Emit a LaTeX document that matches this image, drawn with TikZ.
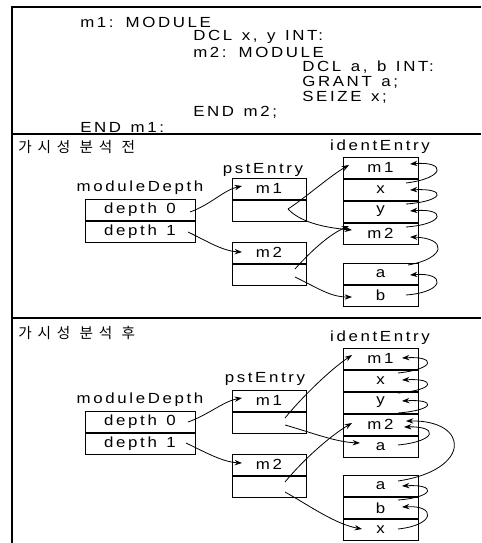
\documentclass[tikz,border=0pt]{standalone}
\usepackage{fontspec}
\setmainfont{Liberation Sans}[FakeStretch=1.15,LetterSpace=18,WordSpace=1.3]
\newfontfamily\krfont{Noto Sans CJK KR}[LetterSpace=40]
\usetikzlibrary{arrows.meta}
\begin{document}
\begin{tikzpicture}[x=0.75pt,y=-0.75pt,
  every node/.style={font=\fontsize{11}{13}\selectfont, inner sep=0pt},
  cell/.style={draw, line width=0.75pt, minimum width=#1, minimum height=15.75pt},
  frame/.style={line width=0.9pt},
  link/.style={-{Stealth[length=5.5pt,width=4pt]}, line width=0.6pt},
  codeline/.style={anchor=west},
  ttl/.style={anchor=west, font=\krfont\fontsize{11}{13}\selectfont}]
\useasboundingbox (0,0) rectangle (482,543);
% frame
\draw[frame] (481,7) -- (12,7) -- (12,543);
\draw[frame] (12,134) -- (481,134);
\draw[frame] (12,318) -- (481,318);
% code
\node[codeline] (c1) at (80,22) {m1: MODULE};
\node[codeline] (c2) at (193,37) {DCL x, y INT:};
\node[codeline] (c3) at (193,52) {m2: MODULE};
\node[codeline] (c4) at (302,67) {DCL a, b INT:};
\node[codeline] (c5) at (302,82) {GRANT a;};
\node[codeline] (c6) at (302,97) {SEIZE x;};
\node[codeline] (c7) at (193,112) {END m2;};
\node[codeline] (c8) at (80,127) {END m1:};
% ===== section 1 =====
\node[ttl] (t1) at (18,147) {가시성 분석 전};
\node (lmd1) at (140,188) {moduleDepth};
\node (lps1) at (263,170) {pstEntry};
\node (lid1) at (380,147) {identEntry};
\node[cell=82.5pt] (amd0) at (140,209.5) {depth 0};
\node[cell=82.5pt, anchor=north] (amd1) at (amd0.south) {depth 1};
\node[cell=55.5pt] (ap1a) at (269,188.5) {m1};
\node[cell=55.5pt, anchor=north] (ap1b) at (ap1a.south) {};
\node[cell=55.5pt] (ap2a) at (269,252.5) {m2};
\node[cell=55.5pt, anchor=north] (ap2b) at (ap2a.south) {};
\node[cell=56.25pt] (aim1) at (380.5,167.5) {m1};
\node[cell=56.25pt, anchor=north] (aix) at (aim1.south) {x};
\node[cell=56.25pt, anchor=north] (aiy) at (aix.south) {y};
\node[cell=56.25pt, anchor=north] (aim2) at (aiy.south) {m2};
\node[cell=56.25pt] (aia) at (380.5,273.5) {a};
\node[cell=56.25pt, anchor=north] (aib) at (aia.south) {b};
% coordinates section 1
\coordinate (s0) at (190,212);
\coordinate (s1) at (188,232);
\coordinate (q1) at (288,209);
\coordinate (q2) at (295,269);
\coordinate (q3) at (295,277);
\coordinate (tm1a) at (349,165);
\coordinate (tm2a) at (352,230);
\coordinate (tm2b) at (349,226);
\coordinate (tba) at (352,297);
\coordinate (tp1) at (242,186);
\coordinate (tp2) at (242,252);
\draw[link] (s0) .. controls (210,205) and (224,190) .. (tp1);
\draw[link] (s1) .. controls (205,240) and (222,251) .. (tp2);
\draw[link] (q1) .. controls (305,198) and (330,176) .. (tm1a);
\draw[link] (q1) .. controls (302,224) and (330,228) .. (tm2a);
\draw[link] (q2) .. controls (312,250) and (330,234) .. (tm2b);
\draw[link] (q3) .. controls (318,288) and (330,297) .. (tba);
% right side section 1
\coordinate (ra1) at (406,183); \coordinate (ha1) at (410,164);
\coordinate (ra2) at (406,204); \coordinate (ha2) at (410,190);
\coordinate (ra3) at (406,227); \coordinate (ha3) at (410,211);
\coordinate (ra4) at (408,265); \coordinate (ha4) at (410,237);
\coordinate (ra5) at (406,295); \coordinate (ha5) at (410,275);
\draw[link] (ra1) .. controls (446,178) and (446,161) .. (ha1);
\draw[link] (ra2) .. controls (446,201) and (446,188) .. (ha2);
\draw[link] (ra3) .. controls (446,224) and (446,208) .. (ha3);
\draw[link] (ra4) .. controls (447,258) and (447,238) .. (ha4);
\draw[link] (ra5) .. controls (446,292) and (446,272) .. (ha5);
% ===== section 2 =====
\node[ttl] (t2) at (18,333) {가시성 분석 후};
\node (lmd2) at (140,400) {moduleDepth};
\node (lps2) at (265,379) {pstEntry};
\node (lid2) at (380,338) {identEntry};
\node[cell=82.5pt] (bmd0) at (140,421.5) {depth 0};
\node[cell=82.5pt, anchor=north] (bmd1) at (bmd0.south) {depth 1};
\node[cell=55.5pt] (bp1a) at (269,400.5) {m1};
\node[cell=55.5pt, anchor=north] (bp1b) at (bp1a.south) {};
\node[cell=55.5pt] (bp2a) at (269,464.5) {m2};
\node[cell=55.5pt, anchor=north] (bp2b) at (bp2a.south) {};
\node[cell=56.25pt] (bim1) at (380.5,358.5) {m1};
\node[cell=56.25pt, anchor=north] (bix) at (bim1.south) {x};
\node[cell=56.25pt, anchor=north] (biy) at (bix.south) {y};
\node[cell=56.25pt, anchor=north] (bim2) at (biy.south) {m2};
\node[cell=56.25pt, anchor=north] (bia) at (bim2.south) {a};
\node[cell=56.25pt] (bja) at (380.5,486) {a};
\node[cell=56.25pt, anchor=north] (bjb) at (bja.south) {b};
\node[cell=56.25pt, anchor=north] (bjx) at (bjb.south) {x};
% coordinates section 2
\coordinate (u0) at (188,422);
\coordinate (u1) at (186,443);
\coordinate (w1) at (285,418);
\coordinate (w2) at (285,425);
\coordinate (w3) at (285,482);
\coordinate (w4) at (285,492);
\coordinate (up1) at (242,398);
\coordinate (up2) at (242,463);
\coordinate (vm1) at (352,355);
\coordinate (va) at (360,443);
\coordinate (vm2) at (352,423);
\coordinate (vx) at (362,529);
\draw[link] (u0) .. controls (208,415) and (224,401) .. (up1);
\draw[link] (u1) .. controls (203,451) and (222,462) .. (up2);
\draw[link] (w1) .. controls (303,396) and (330,370) .. (vm1);
\draw[link] (w2) .. controls (310,432) and (335,442) .. (va);
\draw[link] (w3) .. controls (303,460) and (330,436) .. (vm2);
\draw[link] (w4) .. controls (310,506) and (335,524) .. (vx);
% right side section 2
\coordinate (rb1) at (398,373); \coordinate (hb1) at (402,358);
\coordinate (rb2) at (398,393); \coordinate (hb2) at (402,380);
\coordinate (rb3) at (398,413); \coordinate (hb3) at (402,401);
\coordinate (rb4) at (398,445); \coordinate (hb4) at (404,427);
\coordinate (rb5) at (398,481); \coordinate (hb5) at (406,421);
\coordinate (rb6) at (398,500); \coordinate (hb6) at (402,486);
\coordinate (rb7) at (398,529); \coordinate (hb7) at (402,507);
\draw[link] (rb1) .. controls (436,369) and (436,356) .. (hb1);
\draw[link] (rb2) .. controls (436,390) and (436,378) .. (hb2);
\draw[link] (rb3) .. controls (436,410) and (436,399) .. (hb3);
\draw[link] (rb4) .. controls (438,441) and (438,426) .. (hb4);
\draw[link] (rb5) .. controls (472,470) and (470,420) .. (hb5);
\draw[link] (rb6) .. controls (436,497) and (436,484) .. (hb6);
\draw[link] (rb7) .. controls (436,525) and (436,505) .. (hb7);
\end{tikzpicture}
\end{document}
